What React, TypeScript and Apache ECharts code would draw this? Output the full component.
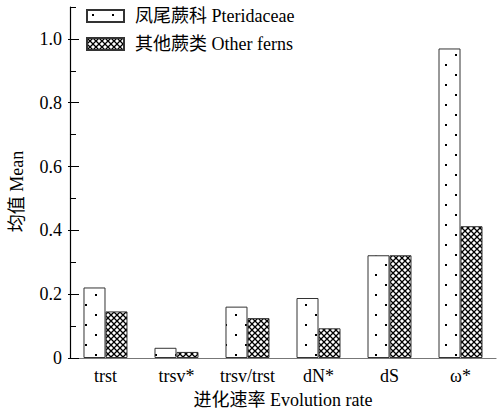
import React, { useEffect, useRef } from "react";
import * as echarts from "echarts";

const categories = ["trst", "trsv*", "trsv/trst", "dN*", "dS", "ω*"];
const pteridaceae = [0.221, 0.032, 0.161, 0.188, 0.322, 0.97];
const otherFerns = [0.146, 0.019, 0.125, 0.093, 0.322, 0.413];
const seriesNames = ["凤尾蕨科 Pteridaceae", "其他蕨类 Other ferns"];
const yMin = 0;
const yTop = 1.1;
const yLabelMax = 1.0;

const FONT = "'Liberation Serif', 'Times New Roman', 'Noto Sans CJK SC', serif";
const FS = 18;

function dotPattern(): HTMLCanvasElement {
  const c = document.createElement("canvas");
  c.width = 20;
  c.height = 20;
  const ctx = c.getContext("2d")!;
  ctx.fillStyle = "#fff";
  ctx.fillRect(0, 0, 20, 20);
  ctx.fillStyle = "#000";
  ctx.fillRect(5, 4, 2, 2);
  ctx.fillRect(15, 14, 2, 2);
  return c;
}

function hatchPattern(): HTMLCanvasElement {
  const c = document.createElement("canvas");
  const s = 6;
  c.width = s;
  c.height = s;
  const ctx = c.getContext("2d")!;
  ctx.fillStyle = "#fff";
  ctx.fillRect(0, 0, s, s);
  ctx.strokeStyle = "#000";
  ctx.lineWidth = 1.3;
  ctx.beginPath();
  ctx.moveTo(-1, -1);
  ctx.lineTo(s + 1, s + 1);
  ctx.moveTo(s + 1, -1);
  ctx.lineTo(-1, s + 1);
  ctx.stroke();
  return c;
}

export default function App() {
  const ref = useRef<HTMLDivElement>(null);
  useEffect(() => {
    if (!ref.current) return;
    const chart = echarts.init(ref.current, null, { renderer: "svg" });
    const gridTop = 7;
    const gridBottom = 56;
    const plotH = 414 - gridTop - gridBottom;
    const top2 = gridTop + plotH * (1 - yLabelMax / yTop);
    chart.setOption({
      animation: false,
      backgroundColor: "#fff",
      textStyle: { fontFamily: FONT, color: "#000" },
      legend: {
        orient: "vertical",
        left: 86,
        top: 7,
        padding: 0,
        itemWidth: 37,
        itemHeight: 12,
        itemGap: 10,
        icon: "rect",
        textStyle: { fontFamily: FONT, fontSize: FS, color: "#000", lineHeight: 18, padding: [0, 0, 0, 6] },
        data: seriesNames,
      },
      grid: [
        { left: 68, right: 1, top: gridTop, bottom: gridBottom },
        { left: 68, right: 1, top: top2, bottom: gridBottom },
      ],
      xAxis: [
        {
          type: "category",
          gridIndex: 0,
          data: categories,
          axisLine: { lineStyle: { color: "#777", width: 1.2 } },
          axisTick: { show: false },
          axisLabel: { interval: 0, hideOverlap: false, fontFamily: FONT, fontSize: FS, color: "#000", margin: 9 },
          name: "进化速率 Evolution rate",
          nameLocation: "middle",
          nameGap: 33,
          nameTextStyle: { fontFamily: FONT, fontSize: FS, color: "#000" },
        },
        {
          type: "category",
          gridIndex: 1,
          data: categories,
          show: false,
        },
      ],
      yAxis: [
        {
          type: "value",
          gridIndex: 0,
          min: yMin,
          max: yTop,
          interval: 0.1,
          axisLine: { show: true, lineStyle: { color: "#000", width: 1.2 } },
          axisTick: { show: true, inside: true, length: 6, lineStyle: { color: "#000" } },
          axisLabel: { show: false },
          splitLine: { show: false },
          name: "均值 Mean",
          nameLocation: "middle",
          nameRotate: 90,
          nameGap: 44,
          nameTextStyle: { fontFamily: FONT, fontSize: FS, color: "#000", padding: [0, 18, 0, 0] },
        },
        {
          type: "value",
          gridIndex: 1,
          min: yMin,
          max: yLabelMax,
          interval: 0.2,
          axisLine: { show: false },
          axisTick: { show: true, inside: true, length: 11, lineStyle: { color: "#000" } },
          axisLabel: {
            fontFamily: FONT,
            fontSize: FS,
            color: "#000",
            margin: 6,
            formatter: (v: number) => (v === 0 ? "0" : v.toFixed(1)),
          },
          splitLine: { show: false },
        },
      ],
      series: [
        {
          name: seriesNames[0],
          type: "bar",
          xAxisIndex: 0,
          yAxisIndex: 0,
          data: pteridaceae,
          barWidth: 22,
          barGap: "0%",
          itemStyle: {
            color: { image: dotPattern(), repeat: "repeat" },
            borderColor: "#333",
            borderWidth: 1,
          },
        },
        {
          name: seriesNames[1],
          type: "bar",
          xAxisIndex: 0,
          yAxisIndex: 0,
          data: otherFerns,
          barWidth: 22,
          barGap: "0%",
          itemStyle: {
            color: { image: hatchPattern(), repeat: "repeat" },
            borderColor: "#333",
            borderWidth: 1,
          },
        },
      ],
    });
    return () => chart.dispose();
  }, []);
  return <div ref={ref} style={{ width: 497, height: 414, position: "absolute", left: 0, top: 0 }} />;
}
